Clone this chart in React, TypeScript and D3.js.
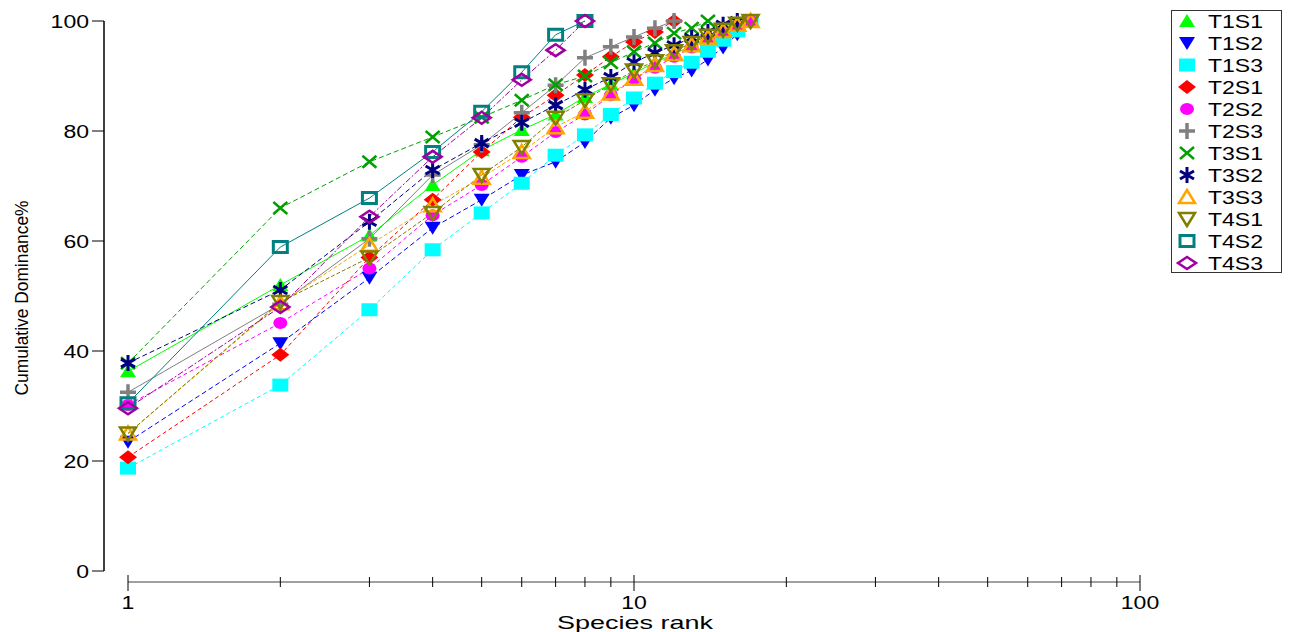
import React, { useEffect, useRef } from 'react';
import * as d3 from 'd3';

// cumulative dominance (%) by species rank
const seriesNames = ['T1S1', 'T1S2', 'T1S3', 'T2S1', 'T2S2', 'T2S3', 'T3S1', 'T3S2', 'T3S3', 'T4S1', 'T4S2', 'T4S3'];

const T1S1 = [36.3, 52, 61, 70.2, 76.5, 80.2, 83, 86.2, 88.5, 90.5, 92.5, 94, 95.5, 96.8, 98, 99.2, 100];
const T1S2 = [23.5, 41.4, 53.3, 62.4, 67.5, 72, 74.4, 78, 82.4, 84.7, 87.5, 89.6, 91, 93, 95.2, 97.6, 100];
const T1S3 = [18.7, 33.8, 47.5, 58.4, 65.1, 70.5, 75.6, 79.3, 83, 86, 88.7, 90.8, 92.5, 94.5, 96.5, 98.2, 100];
const T2S1 = [20.7, 39.3, 57, 67.5, 76.2, 82.5, 86.5, 90.2, 93.5, 96.2, 98, 100];
const T2S2 = [30.2, 45.1, 55, 64.7, 70.2, 75.3, 79.8, 83, 86.5, 89.5, 91.5, 93.5, 95.2, 96.8, 98, 99.2, 100];
const T2S3 = [32.5, 48.5, 60.4, 72, 77.5, 83.3, 88.3, 93.3, 95.3, 97.1, 98.7, 100];
const T3S1 = [37.8, 66, 74.4, 78.9, 82.5, 85.6, 88.4, 90, 92.4, 94.4, 96, 97.8, 98.7, 100];
const T3S2 = [37.8, 51.1, 63.5, 72.9, 77.8, 81.5, 84.7, 87.5, 89.8, 92.5, 94.2, 95.6, 96.9, 98, 99.3, 100];
const T3S3 = [25, 48.7, 59.3, 66.5, 71.5, 76.2, 80.7, 83.5, 86.8, 89.5, 92, 94, 95.6, 97, 98.2, 99.3, 100];
const T4S1 = [25, 48.9, 57, 65.1, 72, 77.1, 82.4, 85.6, 88.5, 91, 92.7, 94.5, 96, 97.3, 98.4, 99.5, 100];
const T4S2 = [30.5, 58.9, 67.8, 76.2, 83.5, 90.7, 97.5, 100];
const T4S3 = [29.6, 48, 64.4, 75.3, 82.4, 89.3, 94.7, 100];

const seriesValues = [T1S1, T1S2, T1S3, T2S1, T2S2, T2S3, T3S1, T3S2, T3S3, T4S1, T4S2, T4S3];

const yTicks = [0, 20, 40, 60, 80, 100];
const xTicks = [1, 10, 100];

const colors = ['#00ff00', '#0000ff', '#00ffff', '#ff0000', '#ff00ff', '#808080', '#00a000', '#000080', '#ffa500', '#808000', '#008080', '#a000a0'];
const dashes = [null, '5,3', '4,3', '4,3', '4,3', null, '5,3', '5,3', '4,2', '4,2', null, '6,2,2,2'];

// marker path, centred on 0,0
function marker(i) {
  switch (i) {
    case 0: case 8: return 'M0,-7L8,6L-8,6Z';
    case 1: case 9: return 'M-8,-6L8,-6L0,7Z';
    case 2: return 'M-8,-6.5H8V6.5H-8Z';
    case 3: return 'M-9,0L0,-7L9,0L0,7Z';
    case 4: return 'M-7,0A7,6 0 1,0 7,0A7,6 0 1,0 -7,0Z';
    case 5: return 'M-8,0H8M0,-8V8';
    case 6: return 'M-7,-6L7,6M-7,6L7,-6';
    case 7: return 'M0,-8V8M-7,-4L7,4M-7,4L7,-4';
    case 10: return 'M-7,-5.5H7V5.5H-7Z';
    case 11: return 'M-9,0L0,-6L9,0L0,6Z';
    default: return '';
  }
}
const filled = [true, true, true, true, true, false, false, false, false, false, false, false];
const strokeW = [0, 0, 0, 0, 0, 3.5, 2.5, 3, 2.5, 2.5, 3, 2.5];

// the original picture is stretched sideways, so its text is too
const stretch = 1.28;

function App() {
  const ref = useRef(null);

  useEffect(() => {
    const svg = d3.select(ref.current);
    svg.selectAll('*').remove();

    const x = d3.scaleLog().domain([1, 100]).range([128, 1140]);
    const y = d3.scaleLinear().domain([0, 100]).range([571, 21]);
    const font = 'Liberation Sans, Arial, sans-serif';

    // y axis
    const ya = svg.append('g');
    ya.append('line').attr('x1', 104).attr('x2', 104).attr('y1', y(100)).attr('y2', y(0))
      .attr('stroke', '#000').attr('stroke-width', 1.5);
    ya.selectAll('line.t').data(yTicks).join('line').attr('class', 't')
      .attr('x1', 92).attr('x2', 104).attr('y1', d => y(d)).attr('y2', d => y(d))
      .attr('stroke', '#000').attr('stroke-width', 1);
    ya.selectAll('text').data(yTicks).join('text')
      .attr('transform', d => `translate(89,${y(d) + 6.5}) scale(${stretch},1)`)
      .attr('text-anchor', 'end')
      .attr('font-family', font).attr('font-size', 18).text(d => d);

    // x axis (log)
    const xa = svg.append('g');
    xa.append('line').attr('x1', x(1)).attr('x2', x(100)).attr('y1', 582).attr('y2', 582)
      .attr('stroke', '#808080').attr('stroke-width', 1.5);
    const minor = [];
    for (let dec = 1; dec < 100; dec *= 10)
      for (let k = 2; k <= 9; k++) minor.push(dec * k);
    xa.selectAll('line.m').data(minor).join('line').attr('class', 'm')
      .attr('x1', d => x(d)).attr('x2', d => x(d)).attr('y1', 577).attr('y2', 587)
      .attr('stroke', '#000').attr('stroke-width', 1);
    xa.selectAll('line.M').data(xTicks).join('line').attr('class', 'M')
      .attr('x1', d => x(d)).attr('x2', d => x(d)).attr('y1', 575).attr('y2', 591)
      .attr('stroke', '#000').attr('stroke-width', 1);
    xa.selectAll('text').data(xTicks).join('text')
      .attr('transform', d => `translate(${x(d)},609) scale(${stretch},1)`)
      .attr('text-anchor', 'middle')
      .attr('font-family', font).attr('font-size', 18).text(d => d);

    svg.append('text').attr('x', 635).attr('y', 629).attr('text-anchor', 'middle')
      .attr('font-family', font).attr('font-size', 19)
      .attr('textLength', 156).attr('lengthAdjust', 'spacingAndGlyphs')
      .text('Species rank');
    svg.append('text').attr('transform', 'translate(28,298) rotate(-90)')
      .attr('text-anchor', 'middle').attr('font-family', font).attr('font-size', 18)
      .attr('textLength', 195).attr('lengthAdjust', 'spacingAndGlyphs')
      .text('Cumulative Dominance%');

    const line = d3.line().x((d, i) => x(i + 1)).y(d => y(d));

    svg.append('g').selectAll('path').data(seriesValues).join('path')
      .attr('d', d => line(d)).attr('fill', 'none')
      .attr('stroke', (d, i) => colors[i]).attr('stroke-width', 1)
      .attr('stroke-dasharray', (d, i) => dashes[i]);

    seriesValues.forEach((vals, i) => {
      svg.append('g').selectAll('path').data(vals).join('path')
        .attr('transform', (d, j) => `translate(${x(j + 1)},${y(d)})`)
        .attr('d', marker(i))
        .attr('fill', filled[i] ? colors[i] : 'none')
        .attr('stroke', filled[i] ? 'none' : colors[i])
        .attr('stroke-width', strokeW[i]);
    });

    // legend
    const lg = svg.append('g');
    lg.append('rect').attr('x', 1171.5).attr('y', 10.5).attr('width', 110).attr('height', 262)
      .attr('fill', '#fff').attr('stroke', '#333').attr('stroke-width', 1);
    const items = lg.selectAll('g').data(seriesNames).join('g')
      .attr('transform', (d, i) => `translate(1187,${21 + i * 22})`);
    items.append('path').attr('d', (d, i) => marker(i))
      .attr('fill', (d, i) => filled[i] ? colors[i] : 'none')
      .attr('stroke', (d, i) => filled[i] ? 'none' : colors[i])
      .attr('stroke-width', (d, i) => strokeW[i]);
    items.append('text').attr('transform', `translate(21,6.5) scale(${stretch},1)`)
      .attr('font-family', font).attr('font-size', 18).text(d => d);
  }, []);

  return (
    <svg ref={ref} width={1294} height={632} style={{ position: 'absolute', left: 0, top: 0, background: '#fff' }} />
  );
}

export default App;
